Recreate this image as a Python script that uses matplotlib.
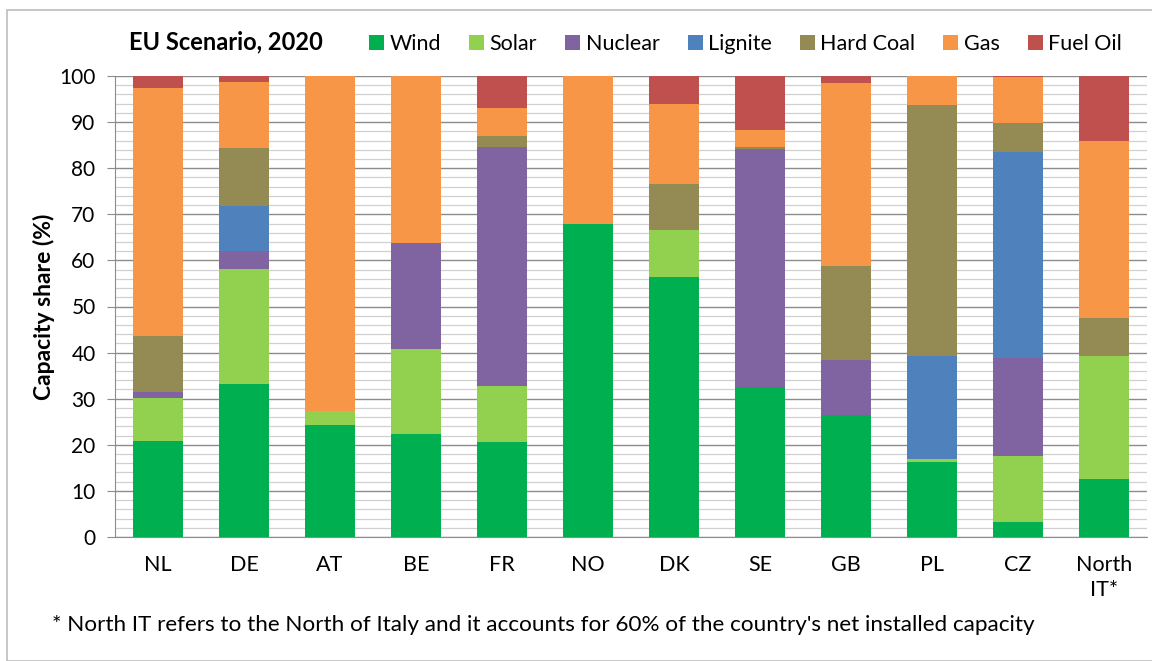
import matplotlib
matplotlib.use("Agg")
import matplotlib.pyplot as plt
import numpy as np
from matplotlib.patches import Rectangle

plt.rcParams["font.family"] = ["Lato", "DejaVu Sans"]

# Data (capacity share, %)
countries = ["NL", "DE", "AT", "BE", "FR", "NO", "DK", "SE", "GB", "PL", "CZ", "North\nIT*"]
wind      = [20.8, 33.1, 24.2, 22.3, 20.5, 68.0, 56.3, 32.5, 26.5, 16.3,  3.2, 12.5]
solar     = [ 9.3, 25.1,  3.1, 18.4, 12.3,  0.0, 10.4,  0.0,  0.0,  0.6, 14.4, 26.8]
nuclear   = [ 1.4,  3.9,  0.0, 23.1, 51.8,  0.0,  0.0, 51.6, 11.8,  0.0, 21.3,  0.0]
lignite   = [ 0.0,  9.6,  0.0,  0.0,  0.0,  0.0,  0.0,  0.0,  0.0, 22.4, 44.6,  0.0]
hard_coal = [12.2, 12.6,  0.0,  0.0,  2.3,  0.0,  9.9,  0.5, 20.4, 54.4,  6.2,  8.2]
gas       = [53.6, 14.4, 72.7, 36.2,  6.2, 32.0, 17.3,  3.6, 39.8,  6.3, 10.0, 38.4]
fuel_oil  = [ 2.7,  1.3,  0.0,  0.0,  6.9,  0.0,  6.1, 11.8,  1.5,  0.0,  0.3, 14.1]

series = [
    ("Wind", wind, "#00B050"),
    ("Solar", solar, "#92D050"),
    ("Nuclear", nuclear, "#8064A2"),
    ("Lignite", lignite, "#4F81BD"),
    ("Hard Coal", hard_coal, "#948A54"),
    ("Gas", gas, "#F79646"),
    ("Fuel Oil", fuel_oil, "#C0504D"),
]

fig = plt.figure(figsize=(11.52, 6.61), dpi=100)
ax = fig.add_axes([115 / 1152, 1 - 537 / 661, 1032 / 1152, 461 / 661])

# outer chart frame
fig.patches.append(Rectangle((7 / 1152, 0.0), 1.2, 1 - 10 / 661, transform=fig.transFigure,
                             fill=False, edgecolor="#bdbdbd", linewidth=1.2))

x = np.arange(len(countries))
bottom = np.zeros(len(countries))
handles = []
for name, vals, color in series:
    v = np.array(vals)
    b = ax.bar(x, v, width=0.57, bottom=bottom, color=color, label=name, zorder=3)
    handles.append(b)
    bottom += v

ax.set_xlim(-0.5, len(countries) - 0.5)
ax.set_ylim(0, 100)
ax.set_yticks(np.arange(0, 101, 10))
ax.set_yticks(np.arange(0, 101, 2), minor=True)
ax.grid(axis="y", which="major", color="#8c8c8c", linewidth=1.0, zorder=0)
ax.grid(axis="y", which="minor", color="#d0d0d0", linewidth=0.9, zorder=0)
ax.set_axisbelow(True)

for s in ["top", "right"]:
    ax.spines[s].set_visible(False)
ax.spines["left"].set_color("#8c8c8c")
ax.spines["bottom"].set_color("#8c8c8c")
ax.tick_params(axis="y", which="major", length=6, color="#8c8c8c", labelsize=15, pad=8)
ax.tick_params(axis="y", which="minor", length=0)
ax.tick_params(axis="x", length=0, labelsize=15.5, pad=13)
ax.set_xticks(x)
ax.set_xticklabels(countries, linespacing=1.3)

ax.set_ylabel("Capacity share (%)", fontsize=16.5, fontweight="bold", labelpad=3)

fig.text(226 / 1152, 1 - 42 / 661, "EU Scenario, 2020", fontsize=17, fontweight="bold",
         ha="center", va="center")

fig.legend(handles=handles, loc="center left", bbox_to_anchor=(350 / 1152, 1 - 44 / 661),
           ncol=7, frameon=False, fontsize=15.5, handlelength=0.7, handleheight=0.7,
           handletextpad=0.25, columnspacing=1.3)

fig.text(52 / 1152, 1 - 625 / 661,
         "* North IT refers to the North of Italy and it accounts for 60% of the country's net installed capacity",
         fontsize=16.2, ha="left", va="center")

fig.savefig("out.png", dpi=100)
